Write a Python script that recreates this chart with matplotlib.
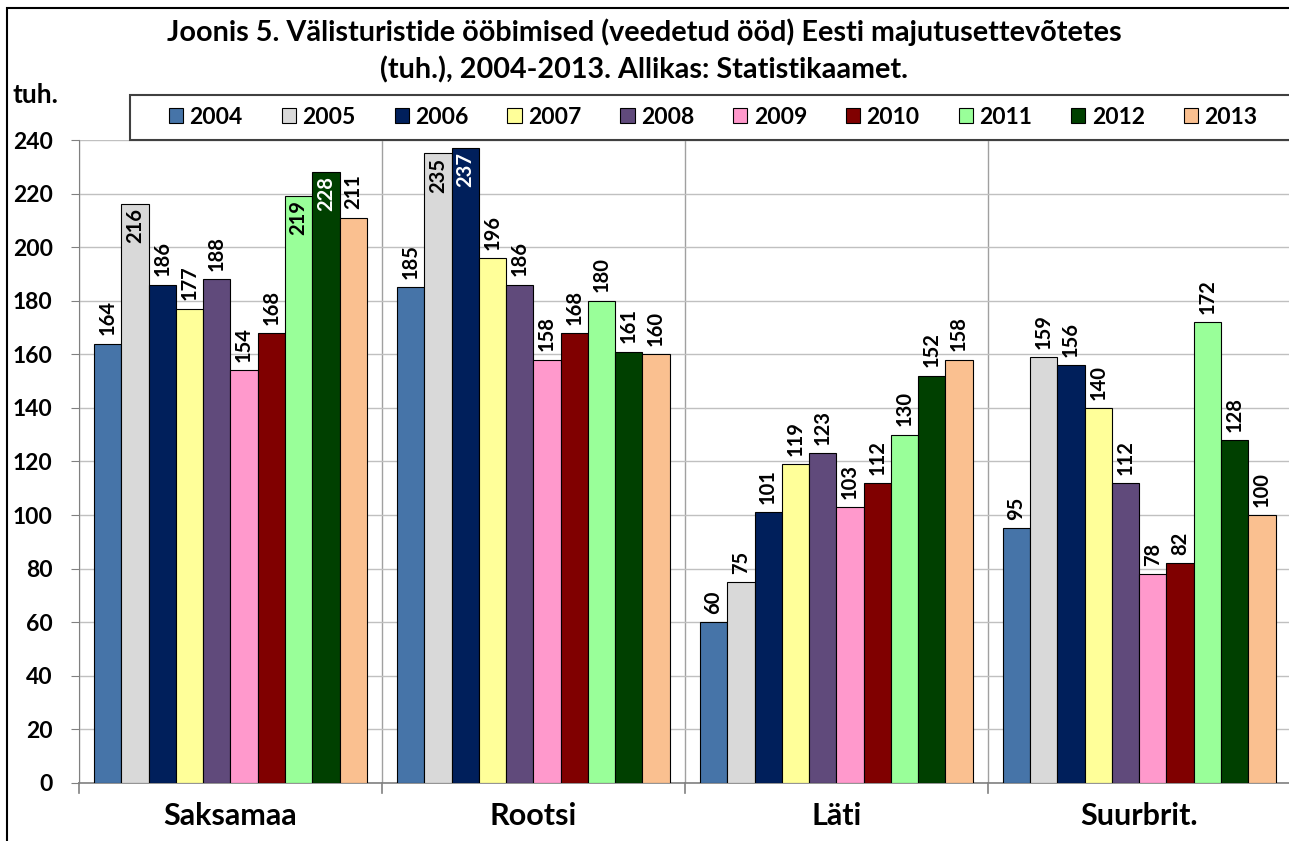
import matplotlib.pyplot as plt
import numpy as np
from matplotlib.patches import Rectangle

plt.rcParams['font.family'] = ['Lato', 'DejaVu Sans']
plt.rcParams['font.weight'] = 'bold'

countries = ['Saksamaa', 'Rootsi', 'Läti', 'Suurbrit.']
years = ['2004', '2005', '2006', '2007', '2008', '2009', '2010', '2011', '2012', '2013']

v2004 = [164, 185, 60, 95]
v2005 = [216, 235, 75, 159]
v2006 = [186, 237, 101, 156]
v2007 = [177, 196, 119, 140]
v2008 = [188, 186, 123, 112]
v2009 = [154, 158, 103, 78]
v2010 = [168, 168, 112, 82]
v2011 = [219, 180, 130, 172]
v2012 = [228, 161, 152, 128]
v2013 = [211, 160, 158, 100]
series = [v2004, v2005, v2006, v2007, v2008, v2009, v2010, v2011, v2012, v2013]

colors = ['#4674A8', '#D9D9D9', '#001F5B', '#FFFF99', '#604A7B',
          '#FF99CC', '#800000', '#99FF99', '#004000', '#FAC090']
dark = ['#001F5B', '#004000']

fig = plt.figure(figsize=(12.89, 8.41), dpi=100)
ax = fig.add_axes([0.0613, 0.069, 0.94, 0.7645])

x = np.arange(len(countries))
n = len(years)
width = 0.9 / n

for i, (yr, vals, c) in enumerate(zip(years, series, colors)):
    pos = x - 0.45 + width * (i + 0.5)
    bars = ax.bar(pos, vals, width, color=c, edgecolor='black', linewidth=0.8,
                  label=yr, zorder=3)
    for b, v in zip(bars, vals):
        cx = b.get_x() + b.get_width() / 2
        if v > 212:
            # tall bars: value written inside, at the top
            ax.annotate(f'{v}', (cx, v), xytext=(0, -3), textcoords='offset points',
                        rotation=90, ha='center', va='top', fontsize=14.5,
                        fontweight='bold', color='white' if c in dark else 'black',
                        zorder=4)
        else:
            ax.annotate(f'{v}', (cx, v), xytext=(0, 6), textcoords='offset points',
                        rotation=90, ha='center', va='bottom', fontsize=14.5,
                        fontweight='bold', color='black', zorder=4)

ax.set_xlim(-0.5, 3.5)
ax.set_ylim(0, 240)
ax.set_yticks(range(0, 241, 20))
ax.tick_params(axis='y', labelsize=16.5, length=6, color='#808080', pad=13)
ax.set_xticks(x)
ax.set_xticklabels(countries, fontsize=22, fontweight='bold')
ax.tick_params(axis='x', length=0, pad=14)
for b in [-0.5, 0.5, 1.5, 2.5]:
    ax.axvline(b, color='#A0A0A0', linewidth=1, zorder=1)
    ax.plot([b, b], [0, -0.016], color='#808080', lw=1.2, clip_on=False,
            transform=ax.get_xaxis_transform())
ax.yaxis.grid(True, color='#C0C0C0', linewidth=1, zorder=0)
for s in ['top', 'right']:
    ax.spines[s].set_visible(False)
ax.spines['left'].set_color('#808080')
ax.spines['bottom'].set_color('#808080')
ax.spines['bottom'].set_linewidth(1.2)

# legend without its own frame; box drawn separately so it runs off the right edge
leg = fig.legend(loc='center left', bbox_to_anchor=(0.131, 0.8605),
                 ncol=10, fontsize=16.5, frameon=False,
                 handlelength=0.62, handleheight=0.62, handletextpad=0.28,
                 borderaxespad=0, borderpad=0, columnspacing=1.70)
for t in leg.get_texts():
    t.set_fontweight('bold')
fig.add_artist(Rectangle((0.101, 0.834), 0.95, 0.053, transform=fig.transFigure,
                         facecolor='white', edgecolor='#404040', linewidth=1.5,
                         zorder=2))
leg.set_zorder(5)

fig.text(0.5, 0.962, 'Joonis 5. Välisturistide ööbimised (veedetud ööd) Eesti majutusettevõtetes',
         ha='center', va='center', fontsize=20.7, fontweight='bold')
fig.text(0.5, 0.917, '(tuh.), 2004-2013. Allikas: Statistikaamet.',
         ha='center', va='center', fontsize=20.7, fontweight='bold')
fig.text(0.010, 0.887, 'tuh.', ha='left', va='center', fontsize=19, fontweight='bold')

fig.add_artist(Rectangle((0.0055, -0.01), 1.1, 1.0, transform=fig.transFigure,
                         fill=False, edgecolor='black', linewidth=1.5))

fig.savefig('out.png', dpi=100)
